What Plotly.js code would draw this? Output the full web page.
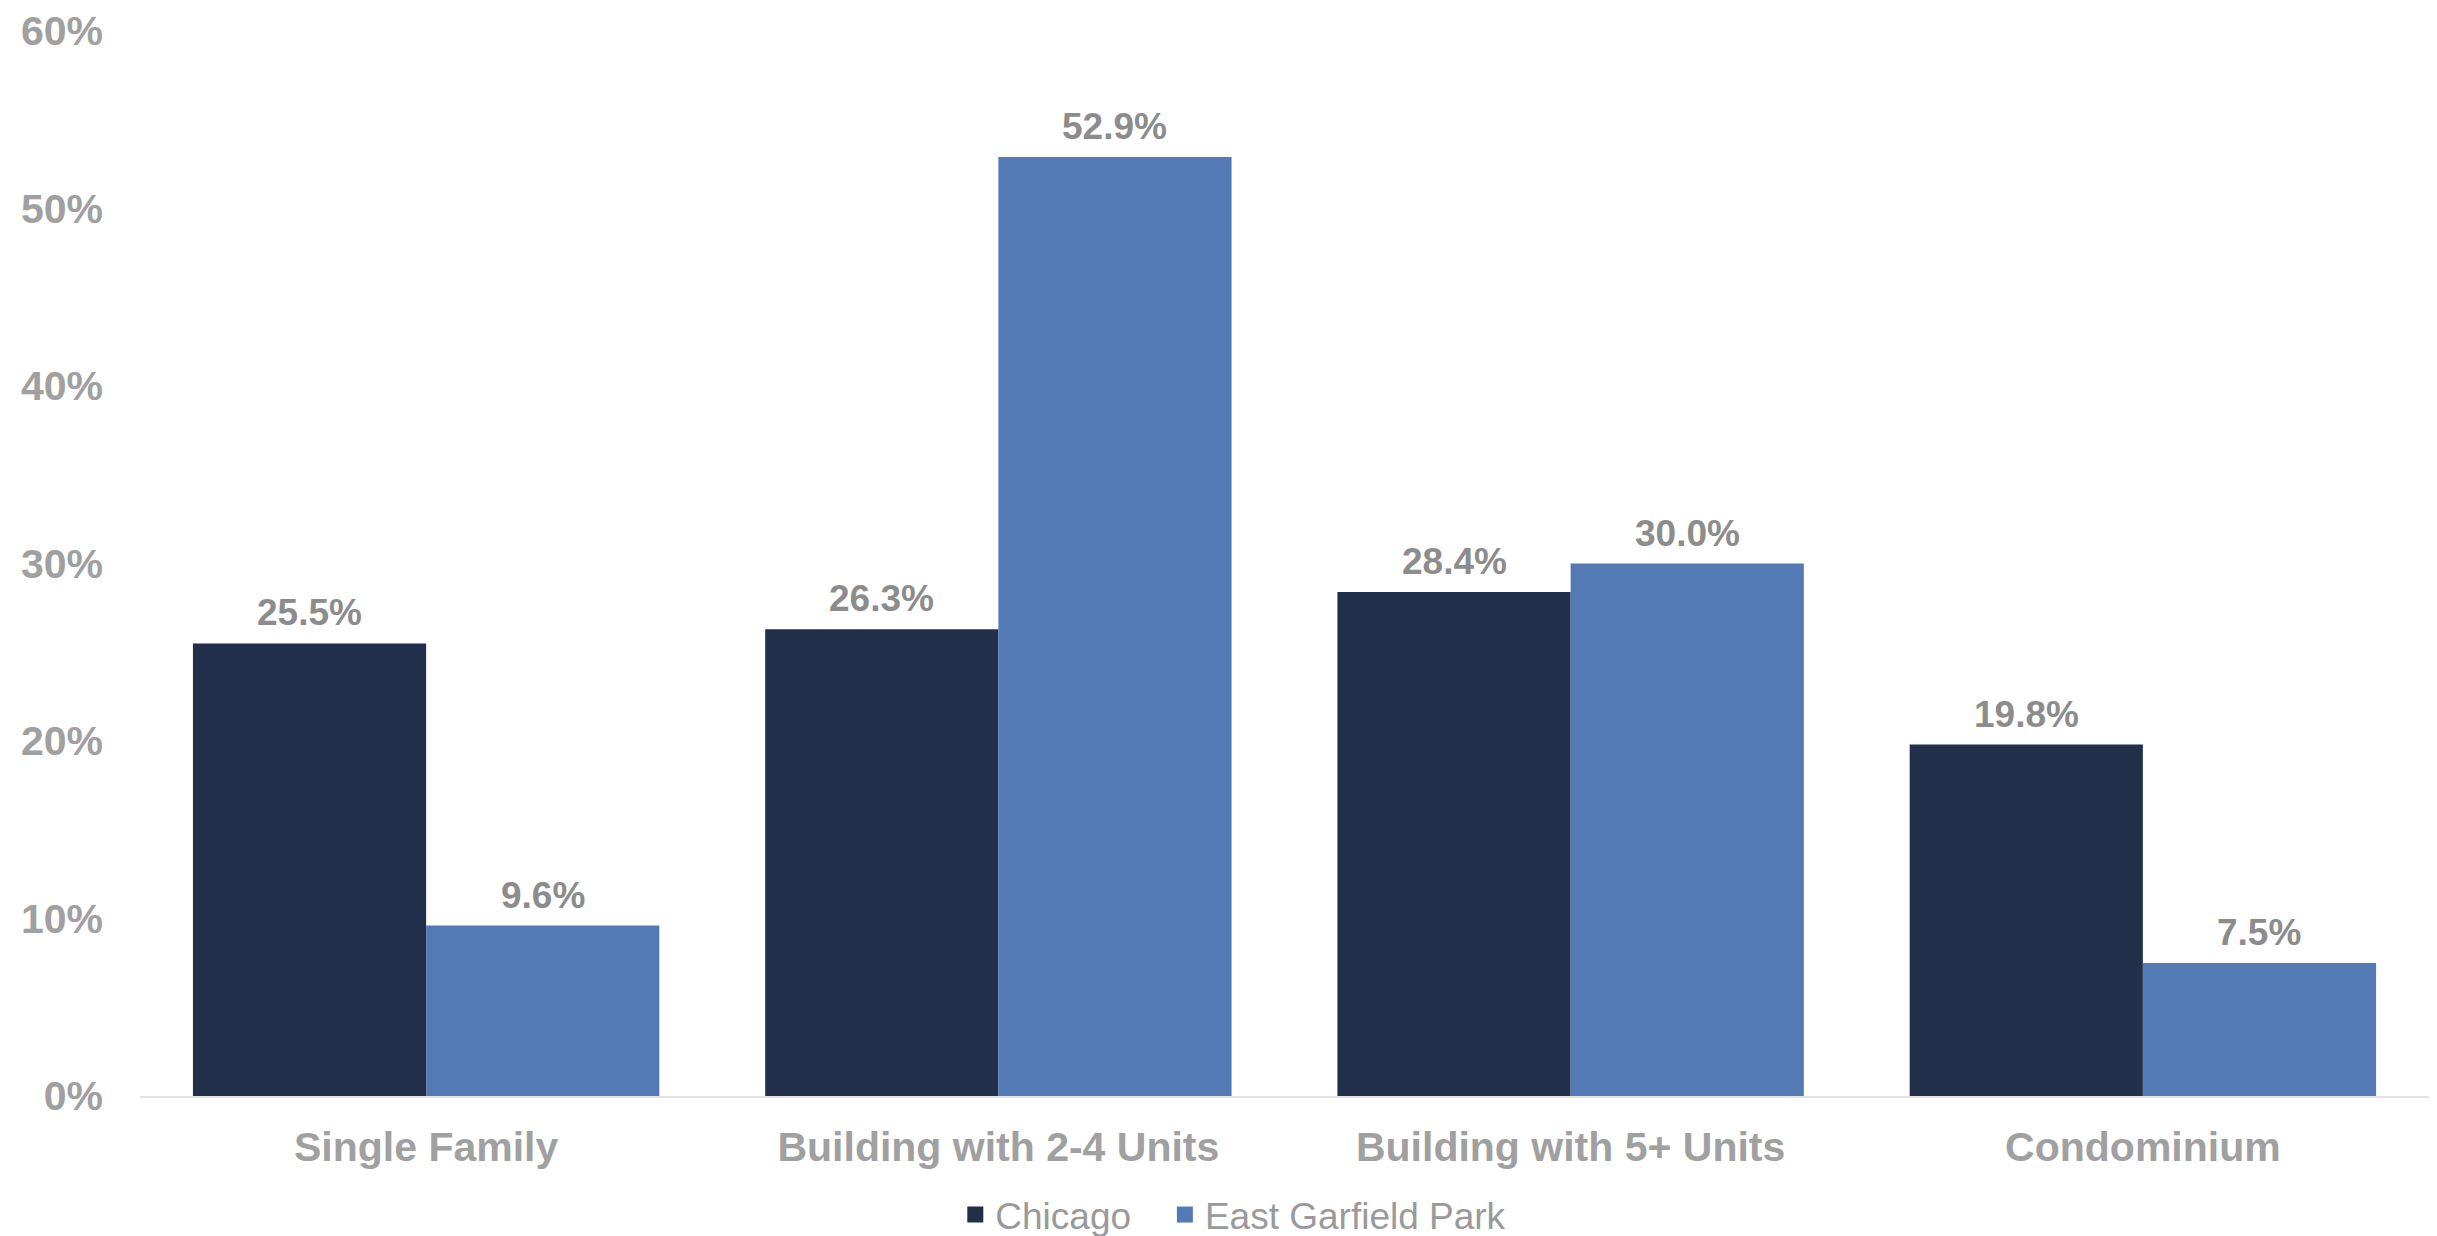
<!DOCTYPE html>
<html>
<head>
<meta charset="utf-8">
<script src="https://cdn.plot.ly/plotly-3.0.1.min.js"></script>
<style>html,body{margin:0;padding:0;background:#fff;}#chart{width:2437px;height:1236px;}</style>
</head>
<body>
<div id="chart"></div>
<script>
const categories = ["Single Family", "Building with 2-4 Units", "Building with 5+ Units", "Condominium"];
const chicago = [25.5, 26.3, 28.4, 19.8];
const eastGarfieldPark = [9.6, 52.9, 30.0, 7.5];
const seriesNames = ["Chicago", "East Garfield Park"];
const yTicks = [0, 10, 20, 30, 40, 50, 60];

const colors = ["#212f4a", "#537ab5"];
const bargap = 0.185;
const FONT = "Liberation Sans, Arial, sans-serif";
const legendIds = ["legend", "legend2"];
const legendX = [0.392, 0.478];

const series = [chicago, eastGarfieldPark];
const traces = series.map((vals, i) => ({
  type: "bar",
  name: seriesNames[i],
  legendgroup: seriesNames[i],
  showlegend: false,
  x: categories,
  y: vals,
  marker: {color: colors[i], line: {width: 0}},
  hoverinfo: "skip"
}));
// legend entries (square swatches) for each series
seriesNames.forEach((n, i) => {
  traces.push({
    type: "scatter",
    mode: "markers",
    name: n,
    legendgroup: n,
    legend: legendIds[i],
    x: [null], y: [null],
    marker: {symbol: "square", size: 16, color: colors[i]},
    hoverinfo: "skip"
  });
});

// data labels placed above each bar via data coordinates
const offset = (1 - bargap) / 4;
const annotations = [];
series.forEach((vals, i) => {
  vals.forEach((v, j) => {
    annotations.push({
      x: j + (i === 0 ? -offset : offset),
      y: v,
      xref: "x", yref: "y",
      text: v.toFixed(1) + "%",
      showarrow: false,
      yanchor: "bottom",
      yshift: 8,
      font: {family: FONT, size: 37, color: "#8c8c8c", weight: 700}
    });
  });
});

function legendCfg(x) {
  return {
    orientation: "h",
    xref: "container", yref: "container",
    x: x, xanchor: "left",
    y: 0.017, yanchor: "middle",
    font: {family: FONT, size: 37, color: "#9a9a9a"},
    itemsizing: "trace",
    bgcolor: "rgba(0,0,0,0)"
  };
}

const layout = {
  width: 2437,
  height: 1236,
  margin: {l: 140, r: 8, t: 31, b: 140},
  paper_bgcolor: "#ffffff",
  plot_bgcolor: "#ffffff",
  barmode: "group",
  bargap: bargap,
  bargroupgap: 0,
  showlegend: true,
  legend: legendCfg(legendX[0]),
  legend2: legendCfg(legendX[1]),
  xaxis: {
    type: "category",
    showline: true,
    linecolor: "#e3e3e3",
    linewidth: 2,
    showgrid: false,
    zeroline: false,
    ticks: "",
    ticklabelstandoff: 14,
    tickfont: {family: FONT, size: 41, color: "#a0a0a0", weight: 700}
  },
  yaxis: {
    range: [0, 60],
    tickvals: yTicks,
    ticktext: yTicks.map(t => t + "%"),
    showgrid: false,
    zeroline: false,
    showline: false,
    ticks: "",
    ticklabelstandoff: 36,
    tickfont: {family: FONT, size: 41, color: "#a0a0a0", weight: 700}
  },
  annotations: annotations
};

Plotly.newPlot("chart", traces, layout, {displayModeBar: false, staticPlot: true});
</script>
</body>
</html>
